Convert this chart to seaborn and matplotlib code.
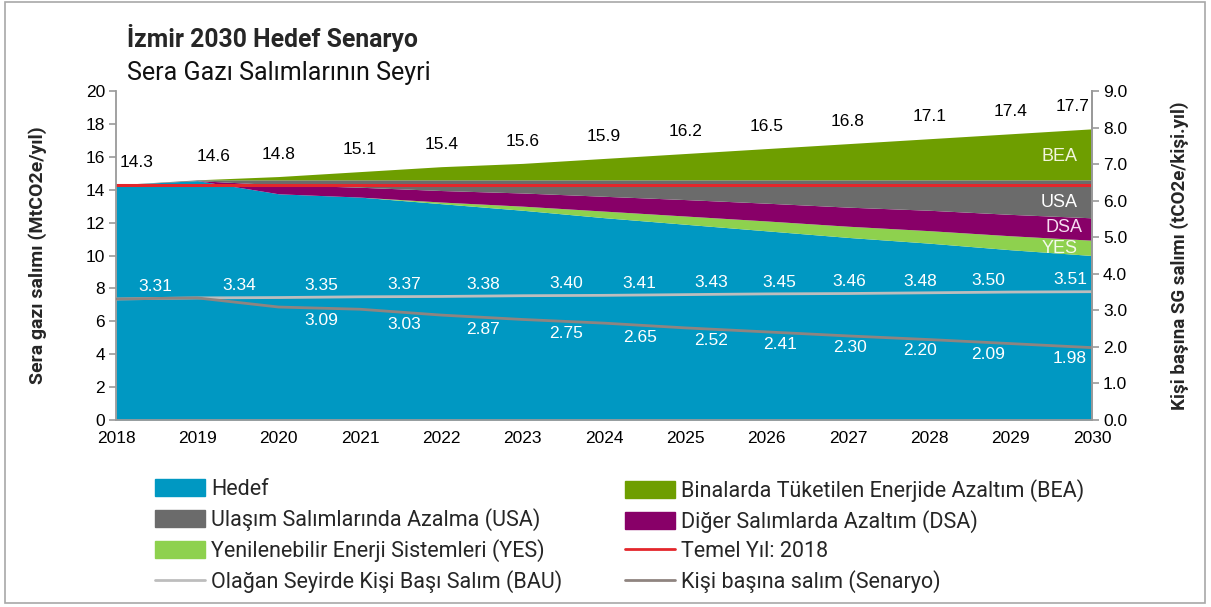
import numpy as np
import pandas as pd
import matplotlib
matplotlib.use("Agg")
import matplotlib.pyplot as plt
import seaborn as sns
from matplotlib.patches import Patch, Rectangle
from matplotlib.lines import Line2D
from matplotlib.ticker import FuncFormatter, MultipleLocator

# ---------------- data ----------------
years = list(range(2018, 2031))

# total emissions under business-as-usual (MtCO2e/yr)
bau_total = [14.3, 14.6, 14.8, 15.1, 15.4, 15.6, 15.9, 16.2, 16.5, 16.8, 17.1, 17.4, 17.7]

# target path and reduction wedges (MtCO2e/yr)
hedef = [14.3, 14.55, 13.75, 13.55, 13.15, 12.75, 12.3, 11.9, 11.5, 11.1, 10.75, 10.35, 10.0]
yes = [0.0, 0.0, 0.0, 0.0, 0.1, 0.25, 0.4, 0.5, 0.6, 0.68, 0.76, 0.85, 0.93]
dsa = [0.0, 0.0, 0.55, 0.6, 0.7, 0.8, 0.9, 1.0, 1.08, 1.16, 1.24, 1.30, 1.36]
usa = [0.0, 0.05, 0.3, 0.45, 0.65, 0.8, 1.0, 1.2, 1.42, 1.66, 1.85, 2.10, 2.31]

# base year level
base_year = [14.3] * len(years)

# per-capita emissions (tCO2e/person.yr)
pc_bau = [3.31, 3.34, 3.35, 3.37, 3.38, 3.40, 3.41, 3.43, 3.45, 3.46, 3.48, 3.50, 3.51]
pc_scen = [3.31, 3.34, 3.09, 3.03, 2.87, 2.75, 2.65, 2.52, 2.41, 2.30, 2.20, 2.09, 1.98]

# buildings wedge fills the gap up to the BAU total
bea = list(np.round(np.array(bau_total) - (np.array(hedef) + np.array(yes)
                                           + np.array(dsa) + np.array(usa)), 3))

df = pd.DataFrame({"year": years, "hedef": hedef, "yes": yes, "dsa": dsa,
                   "usa": usa, "bea": bea, "total": bau_total,
                   "base": base_year, "pc_bau": pc_bau, "pc_scen": pc_scen})

# ---------------- label layout ----------------
total_label_x = [2018.05, 2019.2, 2020, 2021, 2022, 2023, 2024, 2025, 2026, 2027,
                 2028, 2029, 2029.97]
total_label_ha = ["left"] + ["center"] * 11 + ["right"]
pc_label_x = [2018.48, 2019.52, 2020.53, 2021.55, 2022.51, 2023.53, 2024.44,
              2025.32, 2026.16, 2027.02, 2027.89, 2028.72, 2029.73]

# ---------------- style ----------------
sns.set_theme(style="white")
plt.rcParams["font.family"] = ["Liberation Sans", "DejaVu Sans"]
COND = ["Roboto", "DejaVu Sans"]

C_HEDEF = "#0098C2"
C_BEA = "#6E9E00"
C_USA = "#6B6B6B"
C_DSA = "#880068"
C_YES = "#8ED14E"
C_RED = "#E3262B"
C_BAU = "#BDBDBD"
C_SCEN = "#8F8480"
C_AXIS = "#9A9A9A"

fig = plt.figure(figsize=(12.11, 6.07), dpi=100)
ax = fig.add_axes([116 / 1211, 1 - 420 / 607, 976 / 1211, 329 / 607])

ax.stackplot(df["year"], df["hedef"], df["yes"], df["dsa"], df["usa"], df["bea"],
             colors=[C_HEDEF, C_YES, C_DSA, C_USA, C_BEA], linewidth=0)
sns.lineplot(data=df, x="year", y="base", ax=ax, color=C_RED, linewidth=2.2,
             legend=False)

ax.set_xlim(2018, 2030)
ax.set_ylim(0, 20)
ax.yaxis.set_major_locator(MultipleLocator(2))
ax.set_xticks(years)
ax.set_xlabel("")
ax.set_ylabel("Sera gazı salımı (MtCO2e/yıl)", fontsize=14, fontweight="bold",
              family=COND)
ax.yaxis.set_label_coords(-0.071, 0.5)

ax.spines["top"].set_visible(False)
for side in ["left", "bottom", "right"]:
    ax.spines[side].set_color(C_AXIS)
    ax.spines[side].set_linewidth(1.3)
ax.tick_params(axis="both", which="major", direction="out", length=5, width=1.2,
               color=C_AXIS, labelsize=12.5, labelcolor="black", pad=3)

# total labels above the stack
for x, v, ha in zip(total_label_x, df["total"], total_label_ha):
    yv = np.interp(x, df["year"], df["total"])
    ax.annotate(f"{v:.1f}", (x, yv), xytext=(0, 16), textcoords="offset points",
                ha=ha, va="center", fontsize=12.5, color="black")

# wedge names
ax.text(2029.6, 16.0, "BEA", ha="center", va="center", fontsize=13, color="#F2F5DC")
ax.text(2029.6, 13.25, "USA", ha="center", va="center", fontsize=13, color="white")
ax.text(2029.65, 11.7, "DSA", ha="center", va="center", fontsize=13, color="#F6DDF0")
ax.text(2029.6, 10.45, "YES", ha="center", va="center", fontsize=13, color="#F4F9EC")

# ---------------- per-capita axis ----------------
ax2 = ax.twinx()
sns.lineplot(data=df, x="year", y="pc_bau", ax=ax2, color=C_BAU, linewidth=2.0,
             legend=False)
sns.lineplot(data=df, x="year", y="pc_scen", ax=ax2, color=C_SCEN, linewidth=2.0,
             legend=False)
ax2.set_ylim(0, 9)
ax2.yaxis.set_major_locator(MultipleLocator(1))
ax2.yaxis.set_major_formatter(FuncFormatter(lambda v, p: f"{v:.1f}"))
ax2.set_xlim(2018, 2030)
ax2.set_xlabel("")
ax2.set_ylabel("Kişi başına SG salımı (tCO2e/kişi.yıl)", fontsize=13.5,
               fontweight="bold", family=COND)
ax2.yaxis.set_label_coords(1.08, 0.5)
for side in ["top", "left", "bottom"]:
    ax2.spines[side].set_visible(False)
ax2.spines["right"].set_color(C_AXIS)
ax2.spines["right"].set_linewidth(1.3)
ax2.tick_params(axis="y", direction="out", length=5, width=1.2, color=C_AXIS,
                labelsize=12.5, labelcolor="black", pad=3)

for x, v in zip(pc_label_x, df["pc_bau"]):
    yv = np.interp(x, df["year"], df["pc_bau"])
    ax2.annotate(f"{v:.2f}", (x, yv), xytext=(0, 8.5), textcoords="offset points",
                 ha="center", va="center", fontsize=12.5, color="white")
for x, v in list(zip(pc_label_x, df["pc_scen"]))[2:]:
    yv = np.interp(x, df["year"], df["pc_scen"])
    ax2.annotate(f"{v:.2f}", (x, yv), xytext=(0, -8.5), textcoords="offset points",
                 ha="center", va="center", fontsize=12.5, color="white")

# ---------------- titles ----------------
fig.text(127 / 1211, 1 - 47 / 607, "İzmir 2030 Hedef Senaryo", fontsize=17.8,
         fontweight="bold", family=COND, va="baseline", ha="left")
fig.text(127 / 1211, 1 - 80 / 607, "Sera Gazı Salımlarının Seyri", fontsize=18,
         fontweight="normal", family=COND, va="baseline", ha="left",
         color="#111111")

# ---------------- legend ----------------
left_handles = [Patch(color=C_HEDEF), Patch(color=C_USA), Patch(color=C_YES),
                Line2D([], [], color=C_BAU, linewidth=2)]
left_labels = ["Hedef", "Ulaşım Salımlarında Azalma (USA)",
               "Yenilenebilir Enerji Sistemleri (YES)",
               "Olağan Seyirde Kişi Başı Salım (BAU)"]
right_handles = [Patch(color=C_BEA), Patch(color=C_DSA),
                 Line2D([], [], color=C_RED, linewidth=2),
                 Line2D([], [], color=C_SCEN, linewidth=2)]
right_labels = ["Binalarda Tüketilen Enerjide Azaltım (BEA)",
                "Diğer Salımlarda Azaltım (DSA)", "Temel Yıl: 2018",
                "Kişi başına salım (Senaryo)"]
legend_kw = dict(loc="upper left", frameon=False, handlelength=2.3,
                 handleheight=0.82, handletextpad=0.3, labelspacing=0.37,
                 borderpad=0, borderaxespad=0, prop={"family": COND, "size": 15.5})
fig.legend(left_handles, left_labels, bbox_to_anchor=(155 / 1211, 1 - 479 / 607),
           **legend_kw)
fig.legend(right_handles, right_labels, bbox_to_anchor=(625 / 1211, 1 - 479 / 607),
           **legend_kw)

# outer frame
fig.patches.append(Rectangle((5 / 1211, 1 - 603 / 607), 1200 / 1211, 601 / 607,
                             transform=fig.transFigure, fill=False,
                             edgecolor="#A8A8A8", linewidth=1.2))

fig.savefig("out.png", dpi=100)
